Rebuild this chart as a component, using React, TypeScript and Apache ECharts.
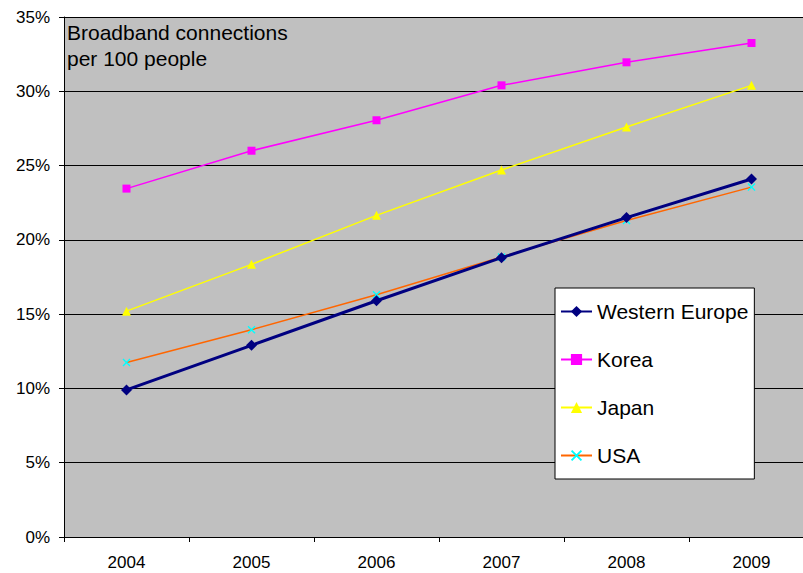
import React, { useEffect, useRef } from "react";
import * as echarts from "echarts";

const years = ["2004", "2005", "2006", "2007", "2008", "2009"];
const westernEurope = [9.9, 12.9, 15.9, 18.8, 21.5, 24.1];
const korea = [23.45, 26.0, 28.05, 30.4, 31.95, 33.25];
const japan = [15.2, 18.35, 21.65, 24.7, 27.6, 30.4];
const usa = [11.75, 13.95, 16.3, 18.85, 21.3, 23.55];
const titleLines = ["Broadband connections", "per 100 people"];

const FONT = "Liberation Sans, Arial, sans-serif";
const X_SYMBOL =
  "path://M0,1.2L1.2,0L5,3.8L8.8,0L10,1.2L6.2,5L10,8.8L8.8,10L5,6.2L1.2,10L0,8.8L3.8,5Z";

export default function App() {
  const ref = useRef<HTMLDivElement>(null);
  useEffect(() => {
    if (!ref.current) return;
    document.body.style.overflow = "hidden";
    const chart = echarts.init(ref.current, undefined, { renderer: "svg" });
    chart.setOption({
      animation: false,
      backgroundColor: "#ffffff",
      title: {
        text: titleLines.join("\n"),
        left: 62,
        top: 14,
        textStyle: {
          fontFamily: FONT,
          fontSize: 21,
          fontWeight: "normal",
          color: "#000",
          lineHeight: 26,
        },
      },
      grid: {
        left: 64,
        top: 17,
        width: 750,
        height: 520,
        show: true,
        backgroundColor: "#c0c0c0",
        borderWidth: 0,
      },
      legend: {
        orient: "vertical",
        left: 555,
        top: 288,
        backgroundColor: "#ffffff",
        borderColor: "#000",
        borderWidth: 1,
        padding: [13, 6, 13, 5],
        itemWidth: 31,
        itemHeight: 14,
        itemGap: 27,
        textStyle: { fontFamily: FONT, fontSize: 21, color: "#000" },
        data: ["Western Europe", "Korea", "Japan", "USA"],
      },
      xAxis: {
        type: "category",
        data: years,
        boundaryGap: true,
        axisLine: { lineStyle: { color: "#000", width: 1 } },
        axisTick: { show: true, interval: 0, length: 5, lineStyle: { color: "#000" } },
        axisLabel: { fontFamily: FONT, fontSize: 17, color: "#000", margin: 17 },
        splitLine: { show: false },
      },
      yAxis: {
        type: "value",
        min: 0,
        max: 35,
        interval: 5,
        axisLine: { show: true, lineStyle: { color: "#000", width: 1 } },
        axisTick: { show: true, length: 5, lineStyle: { color: "#000" } },
        axisLabel: {
          fontFamily: FONT,
          fontSize: 17,
          color: "#000",
          margin: 14,
          formatter: "{value}%",
        },
        splitLine: { show: true, lineStyle: { color: "#000", width: 1 } },
      },
      series: [
        {
          name: "Western Europe",
          type: "line",
          data: westernEurope,
          symbol: "diamond",
          symbolSize: 11,
          lineStyle: { color: "#000080", width: 3 },
          itemStyle: { color: "#000080" },
          z: 5,
        },
        {
          name: "Korea",
          type: "line",
          data: korea,
          symbol: "rect",
          symbolSize: 8,
          lineStyle: { color: "#ff00ff", width: 1.5 },
          itemStyle: { color: "#ff00ff" },
        },
        {
          name: "Japan",
          type: "line",
          data: japan,
          symbol: "triangle",
          symbolSize: 9,
          lineStyle: { color: "#ffff00", width: 1.5 },
          itemStyle: { color: "#ffff00" },
        },
        {
          name: "USA",
          type: "line",
          data: usa,
          symbol: X_SYMBOL,
          symbolSize: 8,
          lineStyle: { color: "#ff6600", width: 1.5 },
          itemStyle: { color: "#00ffff" },
        },
      ],
    });
    return () => chart.dispose();
  }, []);
  return (
    <div
      ref={ref}
      style={{ position: "fixed", left: 0, top: 0, width: 815, height: 573 }}
    />
  );
}
